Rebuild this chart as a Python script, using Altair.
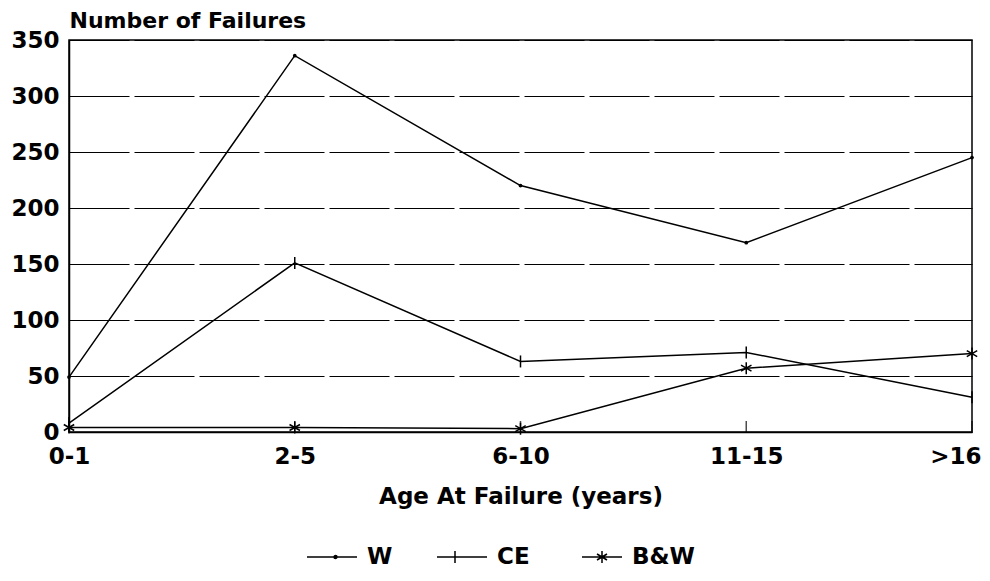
import altair as alt
import pandas as pd

categories = ["0-1", "2-5", "6-10", "11-15", ">16"]
series_names = ["W", "CE", "B&W"]
w_values = [49, 336, 220, 169, 245]
ce_values = [8, 151, 63, 71, 31]
bw_values = [4, 4, 3, 57, 70]
y_ticks = [0, 50, 100, 150, 200, 250, 300, 350]

rows = []
for name, vals in zip(series_names, [w_values, ce_values, bw_values]):
    for c, v in zip(categories, vals):
        rows.append({"age": c, "failures": v, "series": name})
df = pd.DataFrame(rows)
cat_df = pd.DataFrame({"age": categories})

FONT = "DejaVu Sans"
FS = 23

x_enc = alt.X(
    "age:N",
    sort=categories,
    scale=alt.Scale(type="point", padding=0),
    axis=alt.Axis(
        title="Age At Failure (years)",
        titleY=71,
        titleBaseline="alphabetic",
        titleFont=FONT,
        titleFontSize=FS,
        titleFontWeight="bold",
        titleColor="black",
        labelAngle=0,
        labelAlign=alt.condition("datum.label == '>16'", alt.value("right"), alt.value("center")),
        labelOffset=alt.condition("datum.label == '>16'", alt.value(9), alt.value(0)),
        labelPadding=13,
        labelFont=FONT,
        labelFontSize=FS,
        labelFontWeight="bold",
        labelColor="black",
        ticks=False,
        grid=False,
        domainColor="black",
        domainWidth=1.5,
    ),
)

y_enc = alt.Y(
    "failures:Q",
    scale=alt.Scale(domain=[0, 350], nice=False),
    axis=alt.Axis(
        values=y_ticks,
        title="Number of Failures",
        titleAngle=0,
        titleAlign="left",
        titleBaseline="alphabetic",
        titleX=0,
        titleY=-13,
        titleFont=FONT,
        titleFontSize=22,
        titleFontWeight="bold",
        titleColor="black",
        labelFont=FONT,
        labelFontSize=FS,
        labelFontWeight="bold",
        labelColor="black",
        labelPadding=10,
        ticks=False,
        domainColor="black",
        domainWidth=1.5,
        grid=True,
        gridColor="black",
        gridDash=[60, 5],
        gridWidth=1,
        gridOpacity=1,
    ),
)

base = alt.Chart(df)

lines = base.mark_line(color="black", strokeWidth=1.5).encode(
    x=x_enc, y=y_enc, detail="series:N"
)

asterisk = "M0,-1L0,1M-0.87,-0.5L0.87,0.5M-0.87,0.5L0.87,-0.5"

w_pts = base.transform_filter(alt.datum.series == "W").mark_point(
    shape="circle", filled=True, size=14, color="black", opacity=1
).encode(x=x_enc, y=y_enc)

ce_pts = base.transform_filter(alt.datum.series == "CE").mark_point(
    shape="M0,-1L0,1", filled=False, size=144, color="black", strokeWidth=1.5, opacity=1
).encode(x=x_enc, y=y_enc)

bw_pts = base.transform_filter(alt.datum.series == "B&W").mark_point(
    shape=asterisk, filled=False, size=144, color="black", strokeWidth=1.5, opacity=1
).encode(x=x_enc, y=y_enc)

ticks = alt.Chart(cat_df).mark_tick(
    color="black", thickness=1.5, size=11, orient="vertical", yOffset=-5.5
).encode(x=x_enc, y=alt.YDatum(0))

legend_paths = [
    "M-1,0L1,0M0.2,0A0.06,0.06 0 1,1 0.08,0A0.06,0.06 0 1,1 0.2,0",
    "M-1,0L1,0M-0.28,-0.24L-0.28,0.24",
    "M-0.6,0L1,0M0.2,-0.24L0.2,0.24M0,-0.12L0.4,0.12M0,0.12L0.4,-0.12",
]

legend_layer = base.mark_point(opacity=0).encode(
    x=x_enc,
    y=y_enc,
    shape=alt.Shape(
        "series:N",
        scale=alt.Scale(domain=series_names, range=legend_paths),
        legend=alt.Legend(
            title=None,
            orient="none",
            legendX=237,
            legendY=491,
            direction="horizontal",
            symbolSize=2500,
            symbolStrokeColor="black",
            symbolStrokeWidth=1.5,
            symbolOpacity=1,
            labelFont=FONT,
            labelFontSize=FS,
            labelFontWeight="bold",
            labelColor="black",
            labelOffset=9,
            columnPadding=41,
        ),
    ),
)

chart = (
    alt.layer(lines, w_pts, ce_pts, bw_pts, ticks, legend_layer)
    .properties(
        width=903,
        height=392,
        autosize=alt.AutoSizeParams(type="none"),
        padding={"left": 61, "top": 32, "right": 10, "bottom": 140},
        background="white",
    )
    .configure_view(stroke="black", strokeWidth=1.5)
)

chart.save("out.html", embed_options={"renderer": "svg", "actions": False})
